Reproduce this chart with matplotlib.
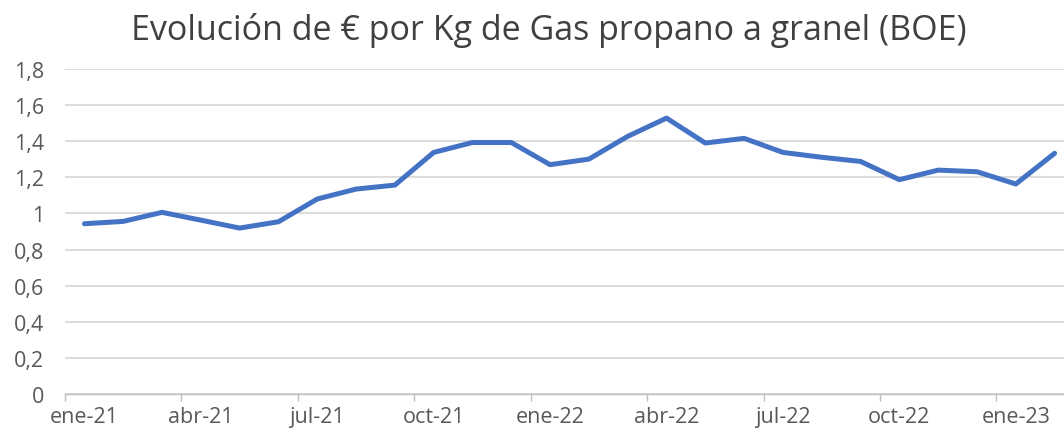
import matplotlib.pyplot as plt
import numpy as np

# monthly price, ene-21 .. feb-23
meses = ['ene-21', 'feb-21', 'mar-21', 'abr-21', 'may-21', 'jun-21',
         'jul-21', 'ago-21', 'sep-21', 'oct-21', 'nov-21', 'dic-21',
         'ene-22', 'feb-22', 'mar-22', 'abr-22', 'may-22', 'jun-22',
         'jul-22', 'ago-22', 'sep-22', 'oct-22', 'nov-22', 'dic-22',
         'ene-23', 'feb-23']
precio = [0.943, 0.956, 1.006, 0.963, 0.919, 0.954,
          1.080, 1.135, 1.157, 1.338, 1.393, 1.393,
          1.270, 1.301, 1.427, 1.528, 1.390, 1.416,
          1.338, 1.311, 1.288, 1.187, 1.240, 1.231,
          1.163, 1.333]
yticks = [0, 0.2, 0.4, 0.6, 0.8, 1.0, 1.2, 1.4, 1.6, 1.8]
ylabels = ['0', '0,2', '0,4', '0,6', '0,8', '1', '1,2', '1,4', '1,6', '1,8']

plt.rcParams['font.family'] = ['Open Sans', 'DejaVu Sans']

fig = plt.figure(figsize=(10.64, 4.35), dpi=100)
ax = fig.add_axes([65/1064, 40/435, 1009/1064, 325/435])

x = np.arange(len(precio))
ax.plot(x, precio, color='#4472C4', lw=3.6, solid_joinstyle='round', solid_capstyle='round')

ax.set_xlim(-0.5, len(precio) - 0.5)
ax.set_ylim(0, 1.8)
ax.set_yticks(yticks)
ax.set_yticklabels(ylabels)
ax.yaxis.grid(True, color='#D9D9D9', lw=1.3)
ax.set_axisbelow(True)
ax.tick_params(axis='y', length=0, pad=15, labelsize=15.5, labelcolor='#595959')

ax.set_xticks(x[::3])
ax.set_xticklabels(meses[::3])
ax.set_xticks(np.arange(-0.5, len(precio), 3), minor=True)
ax.tick_params(axis='x', which='major', length=0, pad=9, labelsize=15.5, labelcolor='#595959')
ax.tick_params(axis='x', which='minor', length=5, color='#BFBFBF', width=1)

for s in ['top', 'right', 'left']:
    ax.spines[s].set_visible(False)
ax.spines['bottom'].set_color('#BFBFBF')
ax.spines['bottom'].set_linewidth(1)

fig.text(549/1064, 1 - 30/435, 'Evolución de € por Kg de Gas propano a granel (BOE)',
         ha='center', va='center', fontsize=24.5, color='#404040')

fig.savefig('out.png', dpi=100)
